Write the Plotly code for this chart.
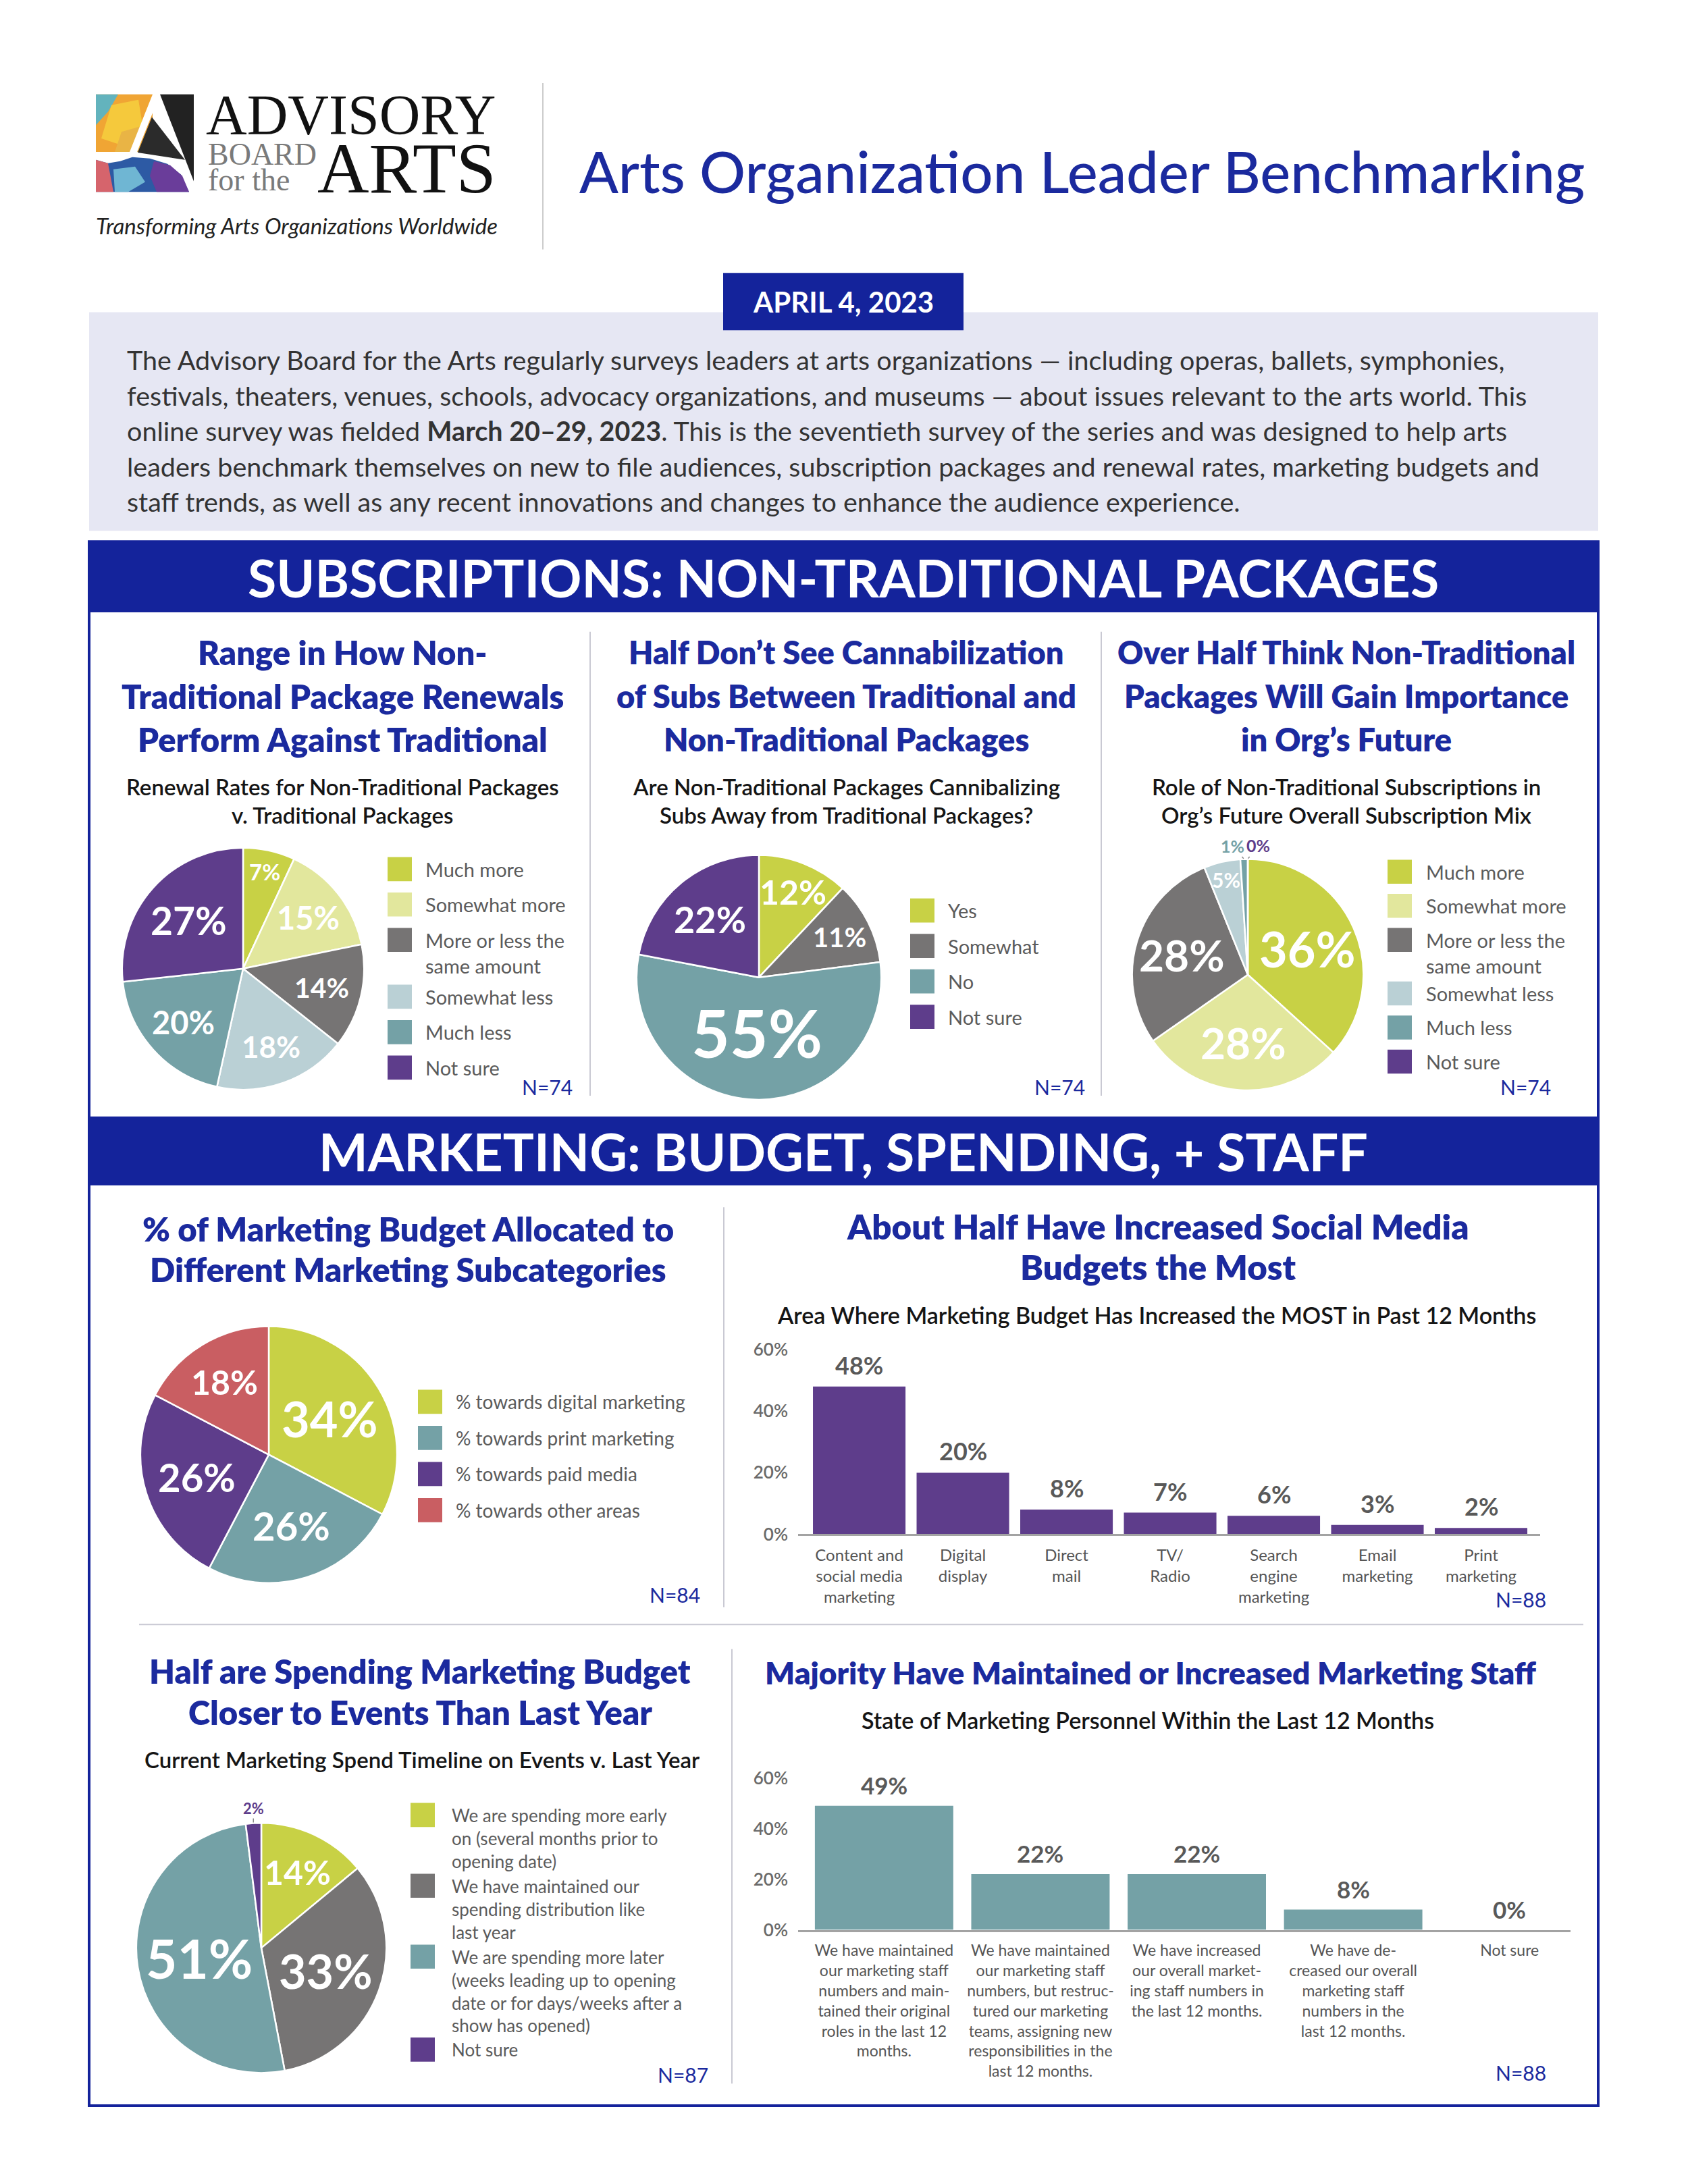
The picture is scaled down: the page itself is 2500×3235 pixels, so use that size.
import math
import plotly.graph_objects as go

W, H = 2500, 3235


def X(p):
    return p / W


def Y(p):
    return 1 - p / H


# ---------------- data ----------------
header_title = "Arts Organization Leader Benchmarking"
date_label = "APRIL 4, 2023"
intro_lines = [
    "The Advisory Board for the Arts regularly surveys leaders at arts organizations — including operas, ballets, symphonies,",
    "festivals, theaters, venues, schools, advocacy organizations, and museums — about issues relevant to the arts world. This",
    "online survey was fielded <b>March 20–29, 2023</b>. This is the seventieth survey of the series and was designed to help arts",
    "leaders benchmark themselves on new to file audiences, subscription packages and renewal rates, marketing budgets and",
    "staff trends, as well as any recent innovations and changes to enhance the audience experience.",
]
banner1 = "SUBSCRIPTIONS: NON-TRADITIONAL PACKAGES"
banner2 = "MARKETING: BUDGET, SPENDING, + STAFF"

p1_title = ["Range in How Non-", "Traditional Package Renewals", "Perform Against Traditional"]
p1_sub = ["Renewal Rates for Non-Traditional Packages", "v. Traditional Packages"]
p1_labels = ["Much more", "Somewhat more", "More or less the<br>same amount", "Somewhat less", "Much less", "Not sure"]
p1_values = [7, 15, 14, 18, 20, 27]
p1_n = "N=74"

p2_title = ["Half Don’t See Cannabilization", "of Subs Between Traditional and", "Non-Traditional Packages"]
p2_sub = ["Are Non-Traditional Packages Cannibalizing", "Subs Away from Traditional Packages?"]
p2_labels = ["Yes", "Somewhat", "No", "Not sure"]
p2_values = [12, 11, 55, 22]
p2_n = "N=74"

p3_title = ["Over Half Think Non-Traditional", "Packages Will Gain Importance", "in Org’s Future"]
p3_sub = ["Role of Non-Traditional Subscriptions in", "Org’s Future Overall Subscription Mix"]
p3_labels = ["Much more", "Somewhat more", "More or less the<br>same amount", "Somewhat less", "Much less", "Not sure"]
p3_values = [36, 28, 28, 5, 1, 0]
p3_n = "N=74"

p4_title = ["% of Marketing Budget Allocated to", "Different Marketing Subcategories"]
p4_labels = ["% towards digital marketing", "% towards print marketing", "% towards paid media", "% towards other areas"]
p4_values = [34, 26, 26, 18]
p4_n = "N=84"

b1_title = ["About Half Have Increased Social Media", "Budgets the Most"]
b1_sub = "Area Where Marketing Budget Has Increased the MOST in Past 12 Months"
b1_categories = ["Content and<br>social media<br>marketing", "Digital<br>display", "Direct<br>mail", "TV/<br>Radio",
                 "Search<br>engine<br>marketing", "Email<br>marketing", "Print<br>marketing"]
b1_values = [48, 20, 8, 7, 6, 3, 2]
b1_n = "N=88"

p5_title = ["Half are Spending Marketing Budget", "Closer to Events Than Last Year"]
p5_sub = "Current Marketing Spend Timeline on Events v. Last Year"
p5_labels = ["We are spending more early<br>on (several months prior to<br>opening date)",
             "We have maintained our<br>spending distribution like<br>last year",
             "We are spending more later<br>(weeks leading up to opening<br>date or for days/weeks after a<br>show has opened)",
             "Not sure"]
p5_values = [14, 33, 51, 2]
p5_n = "N=87"

b2_title = "Majority Have Maintained or Increased Marketing Staff"
b2_sub = "State of Marketing Personnel Within the Last 12 Months"
b2_categories = ["We have maintained<br>our marketing staff<br>numbers and main-<br>tained their original<br>roles in the last 12<br>months.",
                 "We have maintained<br>our marketing staff<br>numbers, but restruc-<br>tured our marketing<br>teams, assigning new<br>responsibilities in the<br>last 12 months.",
                 "We have increased<br>our overall market-<br>ing staff numbers in<br>the last 12 months.",
                 "We have de-<br>creased our overall<br>marketing staff<br>numbers in the<br>last 12 months.",
                 "Not sure"]
b2_values = [49, 22, 22, 8, 0]
b2_n = "N=88"

y_ticks = [0, 20, 40, 60]
y_ticktext = ["0%", "20%", "40%", "60%"]

# ---------------- styles ----------------
BLUE = "#14239b"
TBLUE = "#1b2a9e"
YG = "#c8d145"
LYG = "#e2e79d"
GRAY = "#767474"
LB = "#bad0d5"
TEAL = "#74a1a6"
PURPLE = "#5e3d8b"
RED = "#c95e62"
LEG = "#5b5b5b"
DIV = "#c9c9d3"
SUBC = "#151515"
FONT = "Lato, 'Open Sans', sans-serif"
SERIF = "'Liberation Serif', 'DejaVu Serif', serif"

p1_colors = [YG, LYG, GRAY, LB, TEAL, PURPLE]
p2_colors = [YG, GRAY, TEAL, PURPLE]
p3_colors = [YG, LYG, GRAY, LB, TEAL, PURPLE]
p4_colors = [YG, TEAL, PURPLE, RED]
p5_colors = [YG, GRAY, TEAL, PURPLE]

fig = go.Figure()
ann = []
shp = []


def txt(x, y, s, size, color="#333333", weight=400, anchor="center", family=FONT, style="normal", yanchor="middle"):
    ann.append(dict(x=X(x), y=Y(y), xref="paper", yref="paper", text=s, showarrow=False,
                    xanchor=anchor, yanchor=yanchor, align=anchor if anchor != "center" else "center",
                    font=dict(family=family, size=size, color=color, weight=weight, style=style)))


def rect(x0, y0, x1, y1, fill=None, line=None, lw=0):
    d = dict(type="rect", xref="paper", yref="paper", x0=X(x0), x1=X(x1), y0=Y(y1), y1=Y(y0),
             line=dict(width=lw, color=line if line else "rgba(0,0,0,0)"), layer="above")
    if fill:
        d["fillcolor"] = fill
    shp.append(d)


def seg(x0, y0, x1, y1, color=DIV, lw=2):
    shp.append(dict(type="line", xref="paper", yref="paper", x0=X(x0), x1=X(x1), y0=Y(y0), y1=Y(y1),
                    line=dict(color=color, width=lw), layer="above"))


def poly(pts, fill):
    path = "M " + " L ".join(f"{X(a):.5f},{Y(b):.5f}" for a, b in pts) + " Z"
    shp.append(dict(type="path", xref="paper", yref="paper", path=path, fillcolor=fill,
                    line=dict(width=0), layer="above"))


def block(x, ys, lines, size, color, weight, anchor="center"):
    for yy, s in zip(ys, lines):
        txt(x, yy, s, size, color, weight, anchor)


def legend(labels, colors, x_sq, x_txt, y0, line_pitch, gap, size, sq=36):
    yy = y0
    for lab, col in zip(labels, colors):
        n = len(lab.split("<br>"))
        rect(x_sq, yy - sq / 2, x_sq + sq, yy + sq / 2, fill=col)
        if n == 1:
            txt(x_txt, yy, lab, size, LEG, 400, "left")
        else:
            txt(x_txt, yy - 0.66 * size, lab, size, LEG, 400, "left", yanchor="top")
        yy += n * line_pitch + gap


def add_pie(values, colors, cx, cy, r, fracs, sizes, outs=None):
    fig.add_trace(go.Pie(values=values, labels=[str(i) for i in range(len(values))],
                         marker=dict(colors=colors, line=dict(color="white", width=2.5)),
                         sort=False, direction="clockwise", rotation=0, textinfo="none",
                         hoverinfo="skip", showlegend=False,
                         domain=dict(x=[X(cx - r), X(cx + r)], y=[Y(cy + r), Y(cy - r)])))
    total = sum(values)
    cum = 0
    for i, v in enumerate(values):
        a = 2 * math.pi * (cum + v / 2) / total
        cum += v
        if outs and outs[i]:
            ex, ey = cx + r * math.sin(a), cy - r * math.cos(a)
            ann.append(dict(x=X(ex), y=Y(ey), xref="paper", yref="paper", text=f"{v}%",
                            showarrow=True, arrowhead=0, arrowwidth=1.5, arrowcolor="#8a8a8a",
                            ax=outs[i][0], ay=outs[i][1], standoff=1,
                            font=dict(family=FONT, size=sizes[i], color=colors[i], weight=700)))
        else:
            tx, ty = cx + fracs[i] * r * math.sin(a), cy - fracs[i] * r * math.cos(a)
            txt(tx, ty, f"{v}%", sizes[i], "white", 700)


# ---------------- header ----------------
# logo (approximation of the painted "A" mark)
rect(142, 124, 226, 210, fill="#f0a534")
poly([(142, 124), (175, 124), (160, 150), (142, 170)], "#63b3bd")
poly([(165, 140), (205, 132), (212, 175), (180, 200), (150, 190)], "#f5c93c")
poly([(180, 180), (215, 170), (205, 210), (170, 210)], "#e9b445")
poly([(226, 124), (237, 124), (203, 210), (192, 210)], "#ffffff")
poly([(237, 124), (287, 124), (287, 254)], "#222222")
poly([(225, 158), (204, 211), (274, 222)], "#2b2b2b")
poly([(142, 222), (160, 227), (178, 224), (196, 218), (222, 220), (248, 228), (268, 244), (280, 270), (142, 270)], "#2d5aa4")
poly([(142, 222), (160, 227), (168, 270), (142, 270)], "#d6646c")
poly([(168, 236), (200, 232), (215, 255), (190, 270), (170, 270)], "#6fb6d3")
poly([(228, 224), (252, 230), (270, 246), (280, 270), (232, 270), (222, 246)], "#6a3d9a")
txt(303, 155, "ADVISORY", 84, "#111111", 400, "left", SERIF)
txt(306, 214, "BOARD", 46, "#7a7a7a", 400, "left", SERIF)
txt(306, 252, "for the", 46, "#7a7a7a", 400, "left", SERIF)
txt(468, 235, "ARTS", 106, "#111111", 400, "left", SERIF)
txt(140, 320, "Transforming Arts Organizations Worldwide", 33, "#222222", 400, "left", FONT, "italic")
seg(804, 107, 804, 356, "#cccccc", 2)
txt(1602, 238, header_title, 85, TBLUE, 500)

# intro
rect(132, 450, 2367, 777, fill="#e6e7f3")
rect(1071, 391, 1427, 477, fill=BLUE)
txt(1249, 434, date_label, 42, "white", 700)
for k, s in enumerate(intro_lines):
    txt(186, 521 + k * 53, s, 39.5, "#333333", 400, "left")

# frame and banners
rect(132, 793, 2367, 3133, line=BLUE, lw=4)
rect(132, 793, 2367, 899, fill=BLUE)
txt(1249, 846, banner1, 77, "white", 700)
rect(132, 1653, 2367, 1756, fill=BLUE)
txt(1249, 1705, banner2, 77, "white", 700)

# dividers
seg(874, 928, 874, 1622)
seg(1631, 928, 1631, 1622)
seg(1072, 1789, 1072, 2387)
seg(206, 2413, 2345, 2413)
seg(1084, 2450, 1084, 3100)

# ---------------- pie 1 ----------------
block(507, [958, 1024, 1089], p1_title, 49, TBLUE, 800)
block(507, [1159, 1202], p1_sub, 33, SUBC, 600)
add_pie(p1_values, p1_colors, 360, 1432, 181,
        [0.82, 0.68, 0.66, 0.68, 0.66, 0.6], [33, 47, 41, 44, 47, 57])
legend(p1_labels, p1_colors, 574, 628, 1283, 32, 21, 29)
txt(810, 1609, p1_n, 30, TBLUE, 400)

# ---------------- pie 2 ----------------
block(1253, [958, 1024, 1089], p2_title, 47, TBLUE, 800)
block(1253, [1159, 1202], p2_sub, 33, SUBC, 600)
add_pie(p2_values, p2_colors, 1124, 1445, 183,
        [0.75, 0.73, 0.45, 0.62], [50, 40, 98, 54])
legend(p2_labels, p2_colors, 1348, 1402, 1345, 32, 21, 29)
txt(1569, 1609, p2_n, 30, TBLUE, 400)

# ---------------- pie 3 ----------------
block(1994, [958, 1024, 1089], p3_title, 47, TBLUE, 800)
block(1994, [1159, 1202], p3_sub, 33, SUBC, 600)
add_pie(p3_values, p3_colors, 1848, 1441, 173,
        [0.56, 0.59, 0.59, 0.84, 0, 0], [72, 64, 64, 30, 25, 25],
        outs=[None, None, None, None, (-17, -20), (15, -20)])
legend(p3_labels, p3_colors, 2055, 2110, 1287, 29, 22, 29)
txt(2259, 1609, p3_n, 30, TBLUE, 400)

# ---------------- pie 4 ----------------
block(604, [1821, 1882], p4_title, 49, TBLUE, 800)
add_pie(p4_values, p4_colors, 398, 2159, 192,
        [0.55, 0.58, 0.58, 0.66], [72, 58, 58, 50])
legend(p4_labels, p4_colors, 619, 673, 2080, 32, 22, 28)
txt(999, 2368, p4_n, 30, TBLUE, 400)

# ---------------- bar 1 ----------------
block(1715, [1817, 1878], b1_title, 51, TBLUE, 800)
txt(1713, 1950, b1_sub, 34, SUBC, 600)
fig.add_trace(go.Bar(x=list(range(len(b1_values))), y=b1_values, marker=dict(color=PURPLE, line=dict(width=0)),
                     width=0.893, xaxis="x", yaxis="y", hoverinfo="skip", showlegend=False))
for i, v in enumerate(b1_values):
    ann.append(dict(x=i, y=v, xref="x", yref="y", text=f"{v}%", showarrow=False, yanchor="bottom",
                    yshift=8, font=dict(family=FONT, size=36, color="#595959", weight=700)))
txt(2252, 2376, b1_n, 30, TBLUE, 400)

# ---------------- pie 5 ----------------
block(622, [2483, 2544], p5_title, 49, TBLUE, 800)
txt(625, 2615, p5_sub, 33, SUBC, 600)
add_pie(p5_values, p5_colors, 387, 2897, 187,
        [0.67, 0.54, 0.5, 0], [50, 70, 80, 22],
        outs=[None, None, None, (0, -22)])
legend(p5_labels, p5_colors, 608, 667, 2698, 33, 7, 26)
txt(1011, 3087, p5_n, 30, TBLUE, 400)

# ---------------- bar 2 ----------------
txt(1704, 2485, b2_title, 46, TBLUE, 800)
txt(1700, 2556, b2_sub, 34, SUBC, 600)
fig.add_trace(go.Bar(x=list(range(len(b2_values))), y=b2_values, marker=dict(color=TEAL, line=dict(width=0)),
                     width=0.885, xaxis="x2", yaxis="y2", hoverinfo="skip", showlegend=False))
for i, v in enumerate(b2_values):
    ann.append(dict(x=i, y=v, xref="x2", yref="y2", text=f"{v}%", showarrow=False, yanchor="bottom",
                    yshift=8, font=dict(family=FONT, size=35, color="#595959", weight=700)))
txt(2252, 3084, b2_n, 30, TBLUE, 400)

xcommon = dict(showline=True, linecolor="#a3a3a3", linewidth=2.5, ticks="", showgrid=False, zeroline=False,
               fixedrange=True, ticklabelstandoff=8)
ycommon = dict(showline=False, showgrid=False, zeroline=False, ticks="", tickmode="array",
               tickvals=y_ticks, ticktext=y_ticktext, fixedrange=True, ticklabelstandoff=14,
               tickfont=dict(family=FONT, size=26, color="#6a6a6a", weight=600))

fig.update_layout(
    width=W, height=H, margin=dict(l=0, r=0, t=0, b=0), paper_bgcolor="white", plot_bgcolor="rgba(0,0,0,0)",
    font=dict(family=FONT), showlegend=False,
    xaxis=dict(domain=[X(1182), X(2281)], range=[-0.59, 6.57], anchor="y", tickmode="array",
               tickvals=list(range(len(b1_values))), ticktext=b1_categories,
               tickfont=dict(family=FONT, size=24, color="#555555"), **xcommon),
    yaxis=dict(domain=[Y(2278), Y(2002)], range=[0, 60], anchor="x", **ycommon),
    xaxis2=dict(domain=[X(1182), X(2326)], range=[-0.55, 4.39], anchor="y2", tickmode="array",
                tickvals=list(range(len(b2_values))), ticktext=b2_categories,
                tickfont=dict(family=FONT, size=23, color="#555555"), **xcommon),
    yaxis2=dict(domain=[Y(2870), Y(2642.6)], range=[0, 60], anchor="x2", **ycommon),
    annotations=ann, shapes=shp,
)

fig.write_html("out.html", config={"displayModeBar": False},
               post_script="document.body.style.margin='0';")
